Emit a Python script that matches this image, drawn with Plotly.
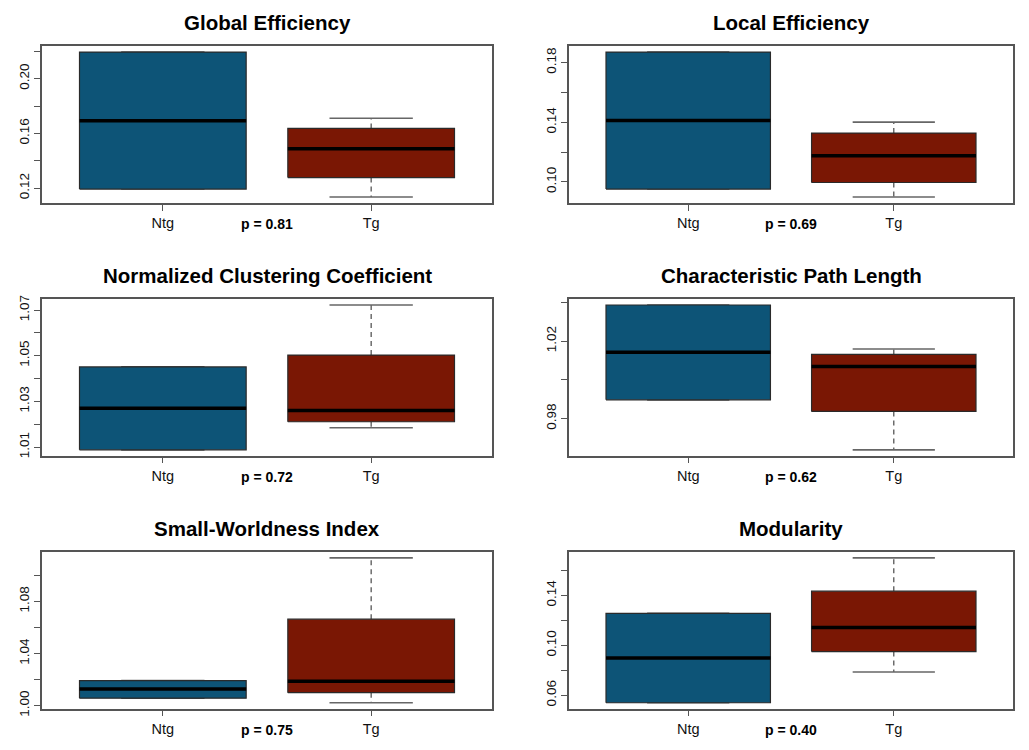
import plotly.graph_objects as go

# ---------------- data ----------------
metrics = ["Global Efficiency", "Local Efficiency",
           "Normalized Clustering Coefficient", "Characteristic Path Length",
           "Small-Worldness Index", "Modularity"]
p_values = ["p = 0.81", "p = 0.69", "p = 0.72", "p = 0.62", "p = 0.75", "p = 0.40"]
groups = ["Ntg", "Tg"]

ntg_lower  = [0.1193, 0.0952, 1.0088, 0.9897, 1.0058, 0.0540]
ntg_q1     = [0.1193, 0.0952, 1.0088, 0.9897, 1.0058, 0.0540]
ntg_median = [0.1693, 0.1412, 1.0270, 1.0142, 1.0128, 0.0898]
ntg_q3     = [0.2194, 0.1871, 1.0451, 1.0386, 1.0193, 0.1256]
ntg_upper  = [0.2194, 0.1871, 1.0451, 1.0386, 1.0193, 0.1256]

tg_lower   = [0.1135, 0.0899, 1.0185, 0.9639, 1.0023, 0.0786]
tg_q1      = [0.1277, 0.0996, 1.0211, 0.9837, 1.0100, 0.0950]
tg_median  = [0.1487, 0.1176, 1.0260, 1.0069, 1.0188, 0.1144]
tg_q3      = [0.1636, 0.1328, 1.0503, 1.0131, 1.0663, 0.1434]
tg_upper   = [0.1710, 0.1401, 1.0722, 1.0159, 1.1133, 0.1701]

tick_values = [
    [0.12, 0.14, 0.16, 0.18, 0.20, 0.22],
    [0.10, 0.12, 0.14, 0.16, 0.18],
    [1.01, 1.02, 1.03, 1.04, 1.05, 1.06, 1.07],
    [0.98, 1.00, 1.02, 1.04],
    [1.00, 1.02, 1.04, 1.06, 1.08, 1.10],
    [0.06, 0.08, 0.10, 0.12, 0.14, 0.16],
]
tick_labels = [
    ["0.12", "", "0.16", "", "0.20", ""],
    ["0.10", "", "0.14", "", "0.18"],
    ["1.01", "", "1.03", "", "1.05", "", "1.07"],
    ["0.98", "", "1.02", ""],
    ["1.00", "", "1.04", "", "1.08", ""],
    ["0.06", "", "0.10", "", "0.14", ""],
]

# ---------------- style ----------------
W, H = 1029, 750
FONT = "Liberation Sans, Arial, Helvetica, sans-serif"
fill_colors = ["#0D5477", "#7A1704"]
col_px = [(42, 492), (569, 1013)]
row_px = [(43, 202), (300, 459), (557, 716)]
half_box = 0.4
half_cap = 0.2

stats = {
    "Ntg": [ntg_lower, ntg_q1, ntg_median, ntg_q3, ntg_upper],
    "Tg": [tg_lower, tg_q1, tg_median, tg_q3, tg_upper],
}

fig = go.Figure()
layout_axes = {}
annotations = []

for i, name in enumerate(metrics):
    r, c = divmod(i, 2)
    ax = "" if i == 0 else str(i + 1)
    xref, yref = "x" + ax, "y" + ax

    all_vals = []
    for gi, g in enumerate(groups):
        lo, q1, med, q3, up = [s[i] for s in stats[g]]
        all_vals += [lo, up]
        cx = gi + 1
        # whiskers (dashed)
        fig.add_trace(go.Scatter(
            x=[cx, cx, None, cx, cx], y=[q3, up, None, q1, lo],
            mode="lines", line=dict(color="#555555", width=1.3, dash="5px,4px"),
            xaxis=xref, yaxis=yref, showlegend=False, hoverinfo="skip"))
        # caps
        fig.add_trace(go.Scatter(
            x=[cx - half_cap, cx + half_cap, None, cx - half_cap, cx + half_cap],
            y=[up, up, None, lo, lo],
            mode="lines", line=dict(color="#666666", width=1.6),
            xaxis=xref, yaxis=yref, showlegend=False, hoverinfo="skip"))
        # box
        fig.add_trace(go.Scatter(
            x=[cx - half_box, cx + half_box, cx + half_box, cx - half_box, cx - half_box],
            y=[q1, q1, q3, q3, q1],
            mode="lines", fill="toself", fillcolor=fill_colors[gi],
            line=dict(color="#2a2a2a", width=1.2),
            xaxis=xref, yaxis=yref, showlegend=False, hoverinfo="skip"))
        # median
        fig.add_trace(go.Scatter(
            x=[cx - half_box, cx + half_box], y=[med, med],
            mode="lines", line=dict(color="#000000", width=3.5),
            xaxis=xref, yaxis=yref, showlegend=False, hoverinfo="skip"))

    vmin, vmax = min(all_vals), max(all_vals)
    pad = (vmax - vmin) * 0.04
    x0, x1 = col_px[c]
    y0, y1 = row_px[r]

    layout_axes["xaxis" + ax] = dict(
        domain=[x0 / W, x1 / W], range=[0.42, 2.58], anchor=yref,
        tickmode="array", tickvals=[1, 2], ticktext=groups,
        showline=True, mirror=True, linecolor="#555555", linewidth=1.5,
        ticks="outside", ticklen=6, tickcolor="#555555", tickwidth=1.3,
        showgrid=False, zeroline=False,
        tickfont=dict(family=FONT, size=14.5, color="#111111"), fixedrange=True)
    layout_axes["yaxis" + ax] = dict(
        domain=[1 - y1 / H, 1 - y0 / H], range=[vmin - pad, vmax + pad], anchor=xref,
        tickmode="array", tickvals=tick_values[i], ticktext=tick_labels[i],
        tickangle=-90,
        showline=True, mirror=True, linecolor="#555555", linewidth=1.5,
        ticks="outside", ticklen=6, tickcolor="#555555", tickwidth=1.3,
        showgrid=False, zeroline=False,
        tickfont=dict(family=FONT, size=13.5, color="#111111"), fixedrange=True)

    # panel title
    annotations.append(dict(
        text="<b>" + name + "</b>", x=(x0 + x1) / 2 / W, y=1 - (y0 - 24) / H,
        xref="paper", yref="paper", xanchor="center", yanchor="middle",
        showarrow=False, font=dict(family=FONT, size=20.5, color="#000000")))
    # p value
    annotations.append(dict(
        text="<b>" + p_values[i] + "</b>", x=1.5, xref=xref,
        y=1 - (y1 + 22) / H, yref="paper", xanchor="center", yanchor="middle",
        showarrow=False, font=dict(family=FONT, size=14, color="#000000")))

fig.update_layout(
    width=W, height=H,
    margin=dict(l=0, r=0, t=0, b=0),
    paper_bgcolor="white", plot_bgcolor="white",
    annotations=annotations,
    **layout_axes,
)

fig.write_html("out.html", config={"displayModeBar": False},
               post_script="document.body.style.margin='0';")
